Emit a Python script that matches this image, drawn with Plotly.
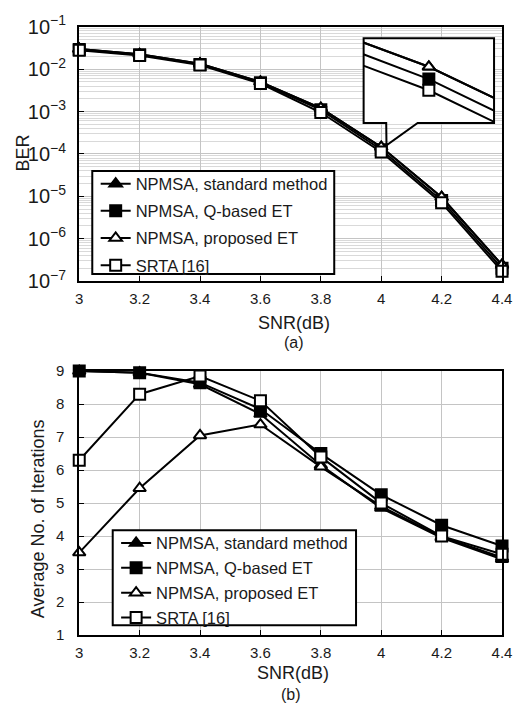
import plotly.graph_objects as go

# ---------------- data ----------------
snr = [3.0, 3.2, 3.4, 3.6, 3.8, 4.0, 4.2, 4.4]
snr_tickvals = [3.0, 3.2, 3.4, 3.6, 3.8, 4.0, 4.2, 4.4]
snr_ticktext = ["3", "3.2", "3.4", "3.6", "3.8", "4", "4.2", "4.4"]

series_names = ["NPMSA, standard method", "NPMSA, Q-based ET",
                "NPMSA, proposed ET", "SRTA [16]"]

ber_standard = [3.0e-2, 2.25e-2, 1.35e-2, 5.0e-3, 1.2e-3, 1.45e-4, 9.5e-6, 2.4e-7]
ber_qbased   = [2.9e-2, 2.2e-2, 1.3e-2, 4.8e-3, 1.1e-3, 1.26e-4, 8.0e-6, 2.0e-7]
ber_proposed = [3.0e-2, 2.25e-2, 1.35e-2, 5.0e-3, 1.2e-3, 1.45e-4, 9.5e-6, 2.4e-7]
ber_srta     = [2.8e-2, 2.1e-2, 1.25e-2, 4.6e-3, 9.5e-4, 1.11e-4, 7.0e-6, 1.7e-7]

iter_standard = [9.0, 8.95, 8.6, 7.7, 6.15, 4.85, 3.95, 3.3]
iter_qbased   = [9.0, 8.95, 8.65, 7.85, 6.5, 5.25, 4.33, 3.7]
iter_proposed = [3.5, 5.45, 7.05, 7.38, 6.1, 4.9, 3.98, 3.35]
iter_srta     = [6.3, 8.3, 8.85, 8.1, 6.4, 5.0, 4.0, 3.45]

iter_tickvals = [1, 2, 3, 4, 5, 6, 7, 8, 9]

# ---------------- styles ----------------
FONT = "Liberation Sans, Arial, sans-serif"
TXT = "#1a1a1a"
W, H = 524, 716


def px(x):
    return x / W


def py(y):
    return 1 - y / H


marker_styles = [
    dict(symbol="triangle-up", size=11, color="black", line=dict(color="black", width=2)),
    dict(symbol="square", size=11, color="black", line=dict(color="black", width=2)),
    dict(symbol="triangle-up", size=11, color="white", line=dict(color="black", width=2)),
    dict(symbol="square", size=11, color="white", line=dict(color="black", width=2)),
]

fig = go.Figure()

ber_series = [ber_standard, ber_qbased, ber_proposed, ber_srta]
iter_series = [iter_standard, iter_qbased, iter_proposed, iter_srta]

for i, (name, vals) in enumerate(zip(series_names, ber_series)):
    fig.add_trace(go.Scatter(
        x=snr, y=vals, name=name, mode="lines+markers",
        line=dict(color="black", width=2), marker=marker_styles[i],
        xaxis="x", yaxis="y", legend="legend", legendgroup="a%d" % i,
        cliponaxis=False))

for i, (name, vals) in enumerate(zip(series_names, iter_series)):
    fig.add_trace(go.Scatter(
        x=snr, y=vals, name=name, mode="lines+markers",
        line=dict(color="black", width=2), marker=marker_styles[i],
        xaxis="x2", yaxis="y2", legend="legend2", legendgroup="b%d" % i,
        cliponaxis=False))

# inset (zoom of the BER curves around 4 dB)
for i, (name, vals) in enumerate(zip(series_names, ber_series)):
    fig.add_trace(go.Scatter(
        x=snr, y=vals, name=name, mode="lines+markers",
        line=dict(color="black", width=2), marker=marker_styles[i],
        xaxis="x3", yaxis="y3", showlegend=False, cliponaxis=True))

xdom = [px(77.3), px(511.7)]
grid_c = "#c4c4c4"
minor_c = "#d9d9d9"

common_x = dict(
    range=[3.0, 4.4], tickvals=snr_tickvals, ticktext=snr_ticktext,
    ticks="inside", ticklen=5, tickcolor="black", tickwidth=1,
    showline=True, mirror=True, linecolor="black", linewidth=2,
    showgrid=True, gridcolor=grid_c, gridwidth=1, zeroline=False,
    tickfont=dict(family=FONT, size=15, color=TXT), ticklabelstandoff=3,
)

fig.update_layout(
    width=W, height=H,
    margin=dict(l=0, r=0, t=0, b=0),
    paper_bgcolor="white", plot_bgcolor="white",
    font=dict(family=FONT, color=TXT),
    xaxis=dict(domain=xdom, anchor="y", **common_x),
    yaxis=dict(
        domain=[py(276.7), py(13.3)], anchor="x", type="log", range=[-7, -1],
        tickmode="linear", tick0=0, dtick=1, exponentformat="power", showexponent="all",
        ticks="inside", ticklen=5, tickcolor="black",
        showline=True, mirror=True, linecolor="black", linewidth=2,
        showgrid=True, gridcolor=grid_c, zeroline=False,
        minor=dict(dtick="D1", showgrid=True, gridcolor=minor_c, gridwidth=1, ticks=""),
        tickfont=dict(family=FONT, size=16, color=TXT), ticklabelstandoff=8,
    ),
    xaxis2=dict(domain=xdom, anchor="y2", **common_x),
    yaxis2=dict(
        domain=[py(643.6), py(370)], anchor="x2", range=[1, 9],
        tickvals=iter_tickvals,
        ticks="inside", ticklen=5, tickcolor="black",
        showline=True, mirror=True, linecolor="black", linewidth=2,
        showgrid=True, gridcolor=grid_c, zeroline=False,
        tickfont=dict(family=FONT, size=15, color=TXT), ticklabelstandoff=10,
    ),
    xaxis3=dict(domain=[px(369.5), px(503.5)], anchor="y3", range=[3.974, 4.026],
                showgrid=False, zeroline=False, showticklabels=False, ticks="",
                showline=False),
    yaxis3=dict(domain=[py(113), py(25)], anchor="x3", type="log",
                range=[-4.117, -3.697],
                showgrid=False, zeroline=False, showticklabels=False, ticks="",
                showline=False),
    legend=dict(
        x=px(94.2), y=py(158), xanchor="left", yanchor="top",
        bgcolor="rgba(0,0,0,0)", borderwidth=0,
        font=dict(family=FONT, size=16.5, color=TXT), tracegroupgap=2.7,
    ),
    legend2=dict(
        x=px(115.2), y=py(530.3), xanchor="left", yanchor="top",
        bgcolor="rgba(0,0,0,0)", borderwidth=0,
        font=dict(family=FONT, size=16.5, color=TXT), tracegroupgap=0.4,
    ),
    hovermode=False,
)

# legend frames (white boxes over the curves)
fig.add_shape(type="rect", xref="paper", yref="paper",
              x0=px(90.7), x1=px(339.3), y0=py(269.3), y1=py(162.7),
              fillcolor="white", line=dict(color="black", width=2), layer="above")
fig.add_shape(type="rect", xref="paper", yref="paper",
              x0=px(111.7), x1=px(361.7), y0=py(633.3), y1=py(535),
              fillcolor="white", line=dict(color="black", width=2), layer="above")

# callout outline for the inset
callout = ("M {a},{b} L {c},{b} L {c},{d} L {e},{d} L {e},{b} L {f},{b} L {g},{h} Z"
           .format(a=px(392.7), b=py(113), c=px(369.5), d=py(25), e=px(503.5),
                   f=px(425), g=px(393), h=py(136))
           )
fig.add_shape(type="path", path=callout, xref="paper", yref="paper",
              line=dict(color="black", width=2), layer="above")

ann = [
    dict(text="SNR(dB)", x=px(298), y=py(320), size=18),
    dict(text="(a)", x=px(298), y=py(340), size=16),
    dict(text="SNR(dB)", x=px(296.7), y=py(683), size=18),
    dict(text="(b)", x=px(295), y=py(705), size=16),
]
for a in ann:
    fig.add_annotation(text=a["text"], x=a["x"], y=a["y"], xref="paper", yref="paper",
                       xanchor="center", yanchor="middle", showarrow=False,
                       font=dict(family=FONT, size=a["size"], color=TXT))
fig.add_annotation(text="BER", x=px(19), y=py(144), xref="paper", yref="paper",
                   textangle=-90, xanchor="center", yanchor="middle", showarrow=False,
                   font=dict(family=FONT, size=18, color=TXT))
fig.add_annotation(text="Average No. of Iterations", x=px(35), y=py(523.5),
                   xref="paper", yref="paper", textangle=-90,
                   xanchor="center", yanchor="middle", showarrow=False,
                   font=dict(family=FONT, size=18, color=TXT))

fig.write_html("out.html", config={"displayModeBar": False},
               post_script="document.body.style.margin='0';document.body.style.overflow='hidden';")
